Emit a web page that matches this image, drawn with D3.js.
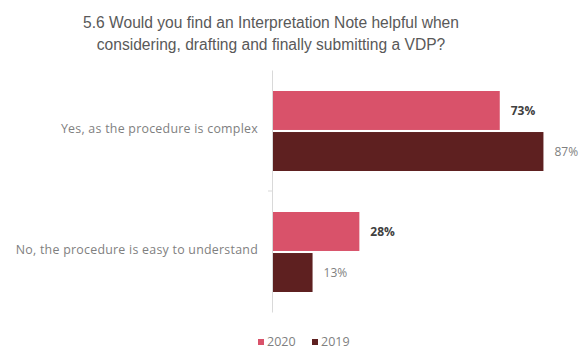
<!DOCTYPE html>
<html>
<head>
<meta charset="utf-8">
<script src="https://cdn.jsdelivr.net/npm/d3@7"></script>
<style>
  body { margin: 0; background: #fff; }
</style>
</head>
<body>
<svg id="chart" width="583" height="350"></svg>
<script>
let categories = ['Yes, as the procedure is complex', 'No, the procedure is easy to understand'];
let seriesNames = ['2020', '2019'];
let values2020 = [73, 28];
let values2019 = [87, 13];
let titleLines = ['5.6 Would you find an Interpretation Note helpful when', 'considering, drafting and finally submitting a VDP?'];

let colors = {'2020': '#d9526a', '2019': '#5e2020'};
let labelFont = 'Open Sans, sans-serif';
let svg = d3.select('#chart');

// title
svg.append('g').selectAll('text').data(titleLines).enter().append('text')
  .attr('x', 271).attr('y', function(d, i) { return 28 + i * 22; })
  .attr('text-anchor', 'middle')
  .attr('font-family', 'Liberation Sans, Arial, sans-serif')
  .attr('font-size', 15.6).attr('fill', '#595959')
  .text(function(d) { return d; });

let x = d3.scaleLinear().domain([0, 100]).range([272, 584]);
let y = d3.scaleBand().domain(categories).range([70, 312]);
let ySub = d3.scaleBand().domain(seriesNames).range([21, 101]).paddingInner(0.05);

let rows = categories.map(function(c, i) {
  return {cat: c, vals: [{s: '2020', v: values2020[i]}, {s: '2019', v: values2019[i]}]};
});

let groups = svg.append('g').selectAll('g').data(rows).enter().append('g')
  .attr('transform', function(d) { return 'translate(0,' + y(d.cat) + ')'; });

groups.selectAll('rect').data(function(d) { return d.vals; }).enter().append('rect')
  .attr('x', x(0))
  .attr('y', function(d) { return ySub(d.s); })
  .attr('width', function(d) { return x(d.v) - x(0); })
  .attr('height', ySub.bandwidth())
  .attr('fill', function(d) { return colors[d.s]; });

groups.selectAll('text.val').data(function(d) { return d.vals; }).enter().append('text')
  .attr('class', 'val')
  .attr('x', function(d) { return x(d.v) + 11; })
  .attr('y', function(d) { return ySub(d.s) + ySub.bandwidth() / 2 + 4.5; })
  .attr('font-family', labelFont)
  .attr('font-size', 12)
  .attr('font-weight', function(d) { return d.s == '2020' ? 'bold' : 'normal'; })
  .attr('fill', function(d) { return d.s == '2020' ? '#404040' : '#7f7f7f'; })
  .text(function(d) { return d.v + '%'; });

// category axis
let yAxis = d3.axisLeft(y).tickSize(0).tickPadding(14);
let ax = svg.append('g').attr('transform', 'translate(' + x(0) + ',0)').call(yAxis);
ax.attr('font-family', null).attr('font-size', null);
ax.select('.domain').attr('stroke', '#d9d9d9');
ax.selectAll('text').attr('font-family', labelFont).attr('font-size', 12.4)
  .attr('letter-spacing', 0.25)
  .attr('fill', '#7f7f7f').attr('dy', '0.2em');
ax.append('line').attr('x1', -4).attr('x2', 0).attr('y1', y.range()[0] + y.step()).attr('y2', y.range()[0] + y.step())
  .attr('stroke', '#d9d9d9');

// legend
let legend = svg.append('g').selectAll('g').data(seriesNames).enter().append('g')
  .attr('transform', function(d, i) { return 'translate(' + (258 + i * 54) + ',341)'; });
legend.append('rect').attr('width', 6).attr('height', 6).attr('y', -2)
  .attr('fill', function(d) { return colors[d]; });
legend.append('text').attr('x', 9).attr('y', 5)
  .attr('font-family', labelFont).attr('font-size', 12.5).attr('fill', '#7f7f7f')
  .text(function(d) { return d; });
</script>
</body>
</html>
